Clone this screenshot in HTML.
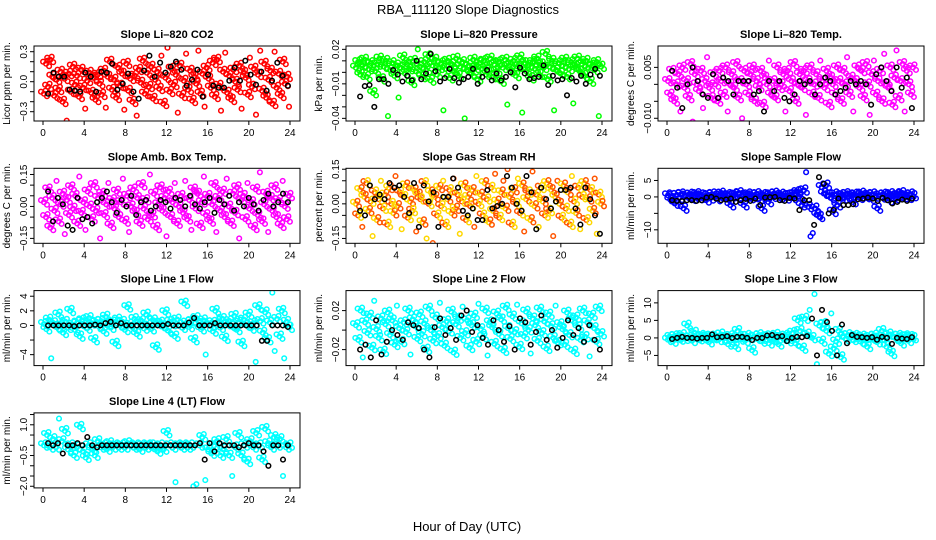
<!DOCTYPE html>
<html><head><meta charset="utf-8"><style>
html,body{margin:0;padding:0;background:#fff}
svg{display:block;font-family:"Liberation Sans",Arial,sans-serif}
</style></head><body>
<svg id="c" width="936" height="540" viewBox="0 0 936 540" xmlns="http://www.w3.org/2000/svg">
<rect width="936" height="540" fill="#fff"/>
<text x="468" y="14" text-anchor="middle" font-size="13">RBA_111120  Slope Diagnostics</text>
<text x="467" y="531" text-anchor="middle" font-size="13">Hour of Day (UTC)</text>
</svg>
<script>
const xTicks=[0,4,8,12,16,20,24];
const co2Vals=[-0.12,0.18,-0.05,0.22,0.05,-0.14,0.02,-0.08,0.10,-0.20,0.03,-0.39,0.08,-0.10,0.15,-0.03,0.06,-0.15,0.12,-0.06,-0.27,0.01,0.09,-0.11,0.04,-0.18,0.07,-0.02,-0.13,0.11,-0.26,0.05,0.20,-0.08,0.02,-0.16,0.14,-0.04,0.08,-0.28,0.18,-0.09,0.03,-0.20,0.06,-0.34,0.12,-0.01,0.21,-0.12,0.09,-0.05,0.15,-0.17,0.02,0.10,-0.07,0.26,-0.22,0.04,0.34,-0.10,0.13,-0.03,0.07,-0.31,0.16,-0.14,0.01,0.28,-0.08,0.11,-0.19,0.05,-0.02,0.31,-0.12,0.08,-0.25,0.14,0.03,-0.06,0.19,-0.15,0.22,-0.04,-0.29,0.10,0.29,-0.11,0.06,-0.18,0.12,0.00,-0.08,0.16,-0.27,0.09,0.04,-0.13,0.24,-0.05,0.13,-0.33,0.07,0.31,-0.09,0.18,-0.16,0.02,0.11,-0.22,0.30,-0.06,0.08,-0.14,0.20,-0.02,0.05,-0.25];
const co2Black=[-0.12,0.09,0.05,0.05,-0.08,-0.09,-0.10,0.09,0.05,-0.10,0.10,0.09,0.18,-0.08,-0.02,0.08,-0.10,-0.17,0.11,0.26,0.05,0.19,0.09,0.15,0.20,0.12,-0.04,0.02,0.12,-0.15,0.07,-0.04,-0.06,-0.06,0.01,0.14,0.01,0.21,0.07,-0.03,0.10,-0.09,0.01,0.19,0.06,-0.04];
const presVals=[0.004,0.009,-0.002,0.006,0.011,-0.004,0.003,0.008,-0.018,0.001,0.007,0.012,-0.006,0.005,0.010,-0.038,0.002,0.008,-0.003,0.006,-0.022,0.004,0.013,-0.001,0.007,0.003,-0.009,0.010,0.001,0.020,0.005,-0.004,0.009,0.002,0.014,-0.007,0.006,0.011,-0.002,0.004,0.008,-0.033,0.003,0.010,-0.005,0.007,0.001,0.012,-0.003,0.005,0.009,-0.040,0.002,0.006,-0.001,0.011,0.004,-0.006,0.008,0.003,0.010,-0.002,0.005,0.012,-0.004,0.007,0.001,0.009,-0.008,0.004,0.011,-0.028,0.006,0.002,0.010,-0.003,0.005,0.013,-0.035,0.008,0.001,0.006,-0.005,0.009,0.003,0.012,-0.002,0.007,0.004,0.016,-0.006,0.005,0.010,-0.033,0.002,0.008,-0.001,0.006,0.011,-0.004,0.003,0.009,-0.027,0.005,0.012,0.001,0.007,-0.003,0.010,0.004,-0.008,0.006,0.002,0.009,-0.038,0.005];
const presBlack=[-0.021,-0.012,-0.011,-0.030,-0.006,-0.006,-0.010,0.002,-0.002,-0.008,-0.003,-0.007,0.010,-0.006,-0.001,0.016,0.001,-0.008,-0.005,0.003,-0.005,-0.009,-0.006,-0.004,0.003,-0.010,-0.004,0.002,-0.007,-0.001,-0.007,-0.004,0.000,-0.013,0.004,-0.001,-0.006,-0.005,-0.004,0.006,-0.011,-0.003,-0.007,-0.006,-0.020,-0.005,-0.008,-0.003,-0.010,-0.002,0.003,-0.003];
const tempVals=[0.001,-0.003,0.004,-0.005,0.000,0.003,-0.008,0.005,-0.001,0.001,-0.004,0.006,-0.011,0.003,0.000,-0.002,0.004,-0.007,0.001,0.008,-0.001,-0.004,0.003,0.000,-0.005,0.004,0.001,-0.003,0.005,-0.008,0.000,0.003,-0.001,0.006,-0.004,0.001,-0.010,0.004,0.000,-0.003,0.003,0.005,-0.005,0.001,-0.001,0.004,-0.006,0.002,0.000,0.007,-0.003,0.001,-0.004,0.005,-0.001,0.000,0.003,-0.008,0.004,-0.002,0.001,0.006,-0.005,0.000,0.003,-0.001,0.004,-0.009,0.001,0.005,-0.003,0.000,0.003,-0.004,0.007,0.001,-0.001,0.004,-0.006,0.002,0.000,-0.003,0.005,0.001,-0.005,0.004,0.000,0.008,-0.003,0.002,-0.008,0.001,0.005,-0.001,0.004,-0.004,0.006,0.000,-0.009,0.003,0.007,-0.003,0.001,0.004,-0.005,0.009,0.000,-0.001,0.005,-0.006,0.002,0.010,-0.004,0.001,0.006,-0.008,0.004,0.000,-0.003,0.005];
const tempBlack=[0.004,-0.001,-0.007,0.000,0.005,0.001,-0.003,-0.004,0.003,-0.004,0.002,0.001,-0.003,0.001,0.001,0.001,-0.003,-0.002,-0.008,0.001,-0.002,0.001,-0.004,-0.005,-0.003,0.001,0.000,0.001,-0.003,0.000,0.002,0.001,-0.003,-0.002,-0.001,0.001,0.000,0.001,0.000,-0.006,0.003,0.005,0.001,-0.002,0.005,-0.001,0.002,-0.007];
const ambVals=[0.02,-0.05,0.08,-0.10,0.04,-0.02,0.12,-0.07,0.01,0.06,-0.13,0.03,-0.04,0.09,-0.01,0.05,-0.08,0.14,-0.03,0.02,-0.11,0.07,0.00,-0.06,0.10,-0.02,0.04,-0.15,0.06,-0.04,0.01,0.11,-0.09,0.03,-0.01,0.07,-0.05,0.02,0.13,-0.07,0.05,-0.12,0.00,0.08,-0.03,0.04,-0.08,0.10,-0.01,0.03,-0.06,0.15,-0.04,0.06,-0.10,0.01,0.09,-0.02,0.04,-0.14,0.07,-0.05,0.02,0.11,-0.08,0.00,0.05,-0.03,0.12,-0.06,0.03,-0.11,0.08,-0.01,0.06,-0.09,0.02,0.14,-0.04,0.05,-0.07,0.01,0.10,-0.12,0.04,-0.02,0.07,-0.05,0.13,0.00,-0.08,0.06,-0.03,0.09,-0.15,0.03,0.05,-0.06,0.11,-0.01,0.02,-0.10,0.08,-0.04,0.16,-0.07,0.01,0.06,-0.12,0.04,-0.02,0.09,-0.05,0.03,-0.09,0.12,0.00,-0.06,0.05];
const ambBlack=[0.07,-0.07,0.04,0.01,-0.09,-0.11,0.04,-0.06,-0.05,-0.08,0.02,0.04,0.07,0.02,-0.03,0.03,0.00,0.05,-0.04,0.02,0.03,-0.02,0.00,0.03,0.02,-0.01,0.04,0.03,0.00,0.05,0.01,-0.01,0.02,0.04,-0.03,0.03,0.01,0.05,-0.02,0.02,0.00,0.04,0.01,-0.02,0.03,0.06,0.00,0.02,0.06,0.02];
const rhVals=[0.00,-0.05,0.06,-0.10,0.03,0.09,-0.03,0.01,-0.14,0.05,-0.07,0.02,0.10,-0.02,0.04,-0.09,0.07,0.00,-0.04,0.12,-0.01,0.05,-0.11,0.03,0.08,-0.06,0.01,-0.03,0.06,-0.12,0.04,0.02,-0.08,0.09,-0.15,0.00,0.05,-0.17,0.03,-0.05,0.07,-0.01,0.10,-0.09,0.02,0.06,-0.04,0.11,-0.02,0.04,-0.13,0.01,0.08,-0.07,0.03,-0.01,0.06,-0.10,0.12,0.00,0.04,-0.05,0.09,0.02,-0.08,0.07,-0.03,0.13,0.01,-0.06,0.05,0.10,-0.02,0.15,0.03,-0.09,0.06,0.00,0.11,-0.04,0.08,-0.12,0.02,0.05,-0.07,0.14,-0.01,0.04,-0.10,0.07,0.01,-0.05,0.09,-0.03,0.06,-0.14,0.03,0.10,0.00,-0.06,0.08,-0.02,0.05,-0.09,0.12,0.01,-0.04,0.07,-0.11,0.03,0.09,-0.07,0.02,0.06,-0.03,0.11,-0.13,0.04,0.00];
const rhBlack=[-0.03,-0.05,0.08,0.02,0.04,0.02,0.09,0.07,0.08,0.03,-0.04,0.09,-0.10,0.08,0.01,0.05,-0.10,0.03,0.03,0.11,0.07,-0.03,-0.05,-0.02,-0.07,-0.07,0.06,-0.02,-0.01,0.00,0.12,0.07,0.00,-0.03,0.12,0.05,-0.11,0.07,0.02,-0.02,0.01,0.06,0.06,0.07,-0.02,-0.09,0.07,0.02,-0.05,-0.13];
const sampleVals=[0.5,-0.8,0.3,-2,0.6,-0.2,0.8,-3.5,0.4,0,0.7,-0.5,0.2,0.9,-0.3,0.5,0.1,-1,0.6,-0.4,0.8,0.2,-0.6,0.4,1,0,-0.2,0.6,-2.5,0.3,0.7,-0.1,1.2,0.4,-2.5,0.2,0.8,-0.3,0.5,0,0.9,-0.5,-3.5,0.6,0.2,-1.5,0.8,0.1,1,0.4,-0.2,0.7,0.3,-0.4,0.5,0.6,-0.3,0.8,1.5,0.2,-2.5,2,7.5,-3,-12,-11,-3.5,-5.5,-6,3,1,3.5,0.5,-0.3,-4.5,0.8,-2.5,0.2,0.6,-0.4,0.9,0.1,0.5,-1.5,0.7,0.3,-0.2,1,0.4,0,0.6,-0.5,0.8,0.2,-3.5,0.5,-0.1,0.7,0.3,-1,0.9,0.2,-0.3,0.6,0.4,1.2,0,0.5,-0.2,0.8,0.3];
const sampleBlack=[-1,-1.2,-1.3,-1,-1,-1.2,-1,-0.2,0,-0.5,-1,-0.8,-0.5,-1.5,-1,-0.6,-1.2,-0.5,-2.5,-0.2,-0.1,0,-1,-1.2,-0.3,-0.5,-4,-1,-1,-8.5,6,4,-5,-4,-0.5,-2.5,-2.5,-2.2,-0.7,-0.5,-0.2,-0.5,-1.2,-0.3,-1,-2,-1.5,-0.8,-1.2,-0.5];
const line1Vals=[0.2,-0.5,0.8,-4.5,0.3,-0.2,1.5,0,-1,0.5,-0.3,2,0.1,-0.6,0.4,-1.5,0.7,0,-0.4,1,0.3,-2,0.5,-0.1,0.6,-0.8,1.2,0.2,-0.3,0.4,-2.5,0.8,0,0.5,-0.6,2.5,0.1,-0.2,0.9,-1.2,0.3,0.6,-0.4,1.5,0,-0.5,0.7,-3,0.2,0.4,-0.1,1.8,-0.7,0.5,0.2,-1.5,0.8,0,-0.3,3,0.4,-0.2,0.6,-2,1,0.1,-0.5,0.7,-4,0.3,0,-0.8,2,0.5,-0.3,0.9,-1.8,0.2,0.6,-0.1,1.3,-0.6,0.4,-2.5,0.8,0,1.5,-0.4,0.3,-5,2.5,0.6,-1,1.8,-2,0.4,4.5,-3.5,0.9,-1.5,2,-4.5,0.5,-0.3];
const line1Black=[0,0,0,0,0,-0.1,0,0,0,0.1,0,0.3,0.5,0,0.3,0,0,0,0,0,0,0,0,0.2,0,0,0,0.4,1,0,0,0,0.3,0,0,0,0,0,0,0,0,-2.1,-2.1,0,0,0,-0.2];
const line2Vals=[0.005,-0.01,0.02,-0.028,0.008,-0.003,0.015,-0.018,0.03,0.001,-0.008,0.012,-0.022,0.006,0.018,-0.005,0.01,-0.015,0.025,0.002,-0.012,0.008,-0.002,0.02,-0.025,0.011,0.004,-0.009,0.016,-0.004,0.007,-0.02,0.022,0.000,-0.011,0.013,-0.006,0.028,0.003,-0.016,0.009,-0.001,0.019,-0.023,0.006,0.012,-0.008,0.024,-0.003,0.01,-0.018,0.005,0.015,-0.012,0.027,0.001,-0.007,0.02,-0.026,0.008,0.003,-0.014,0.017,-0.004,0.011,-0.021,0.023,0.002,-0.009,0.014,-0.002,0.026,-0.017,0.007,-0.006,0.019,0.000,-0.024,0.012,0.005,-0.011,0.021,-0.003,0.009,-0.019,0.016,0.004,-0.008,0.025,-0.013,0.006,0.001,-0.015,0.018,-0.005,0.01,-0.022,0.013,0.003,-0.01,0.02,-0.007,0.008,-0.027,0.015,0.002,-0.012,0.022,-0.004];
const line2Black=[-0.02,-0.015,-0.028,0.01,-0.025,-0.012,0.0,-0.005,-0.01,0.008,0.005,0.002,-0.02,-0.028,0.003,0.012,-0.005,0.002,-0.01,0.015,0.02,-0.002,0.005,-0.008,-0.015,0.01,0.0,-0.012,0.004,-0.02,0.012,0.008,-0.015,-0.002,0.015,-0.01,0.0,-0.018,-0.008,0.01,-0.005,0.002,-0.012,0.005,-0.01,-0.02];
const line3Vals=[-0.5,0.3,-1,0.5,0,-0.4,0.8,-0.2,3.5,0.2,-0.8,1.5,0,-0.3,0.6,-0.1,0.4,-1.2,0.2,0,0.7,-0.5,1,-0.2,0.3,-1.8,0.5,0,-2.5,2,-0.4,0.3,-0.8,0.6,0,-3.5,0.4,-0.2,0.8,-1,0.2,0.5,-1.5,0.1,-0.6,0.9,-1.8,0.3,-0.2,0.7,-0.9,0.4,1.5,-1.5,5,2,-3,5.5,1,8,0,12.5,-7.5,3.5,-1,4,2,-4.5,7,-3,-1,2,-5.5,0.5,-0.3,0.8,0,-0.5,0.6,0.2,-1,0.4,0,-2.5,0.3,-0.2,0.7,-1.2,0.1,2,-0.5,-2.5,1,-4.5,0.4,-0.3,0.6,-1.5,0.2,0.5,-0.8,0.3,0];
const line3Black=[-0.3,0,0.3,0,0,-0.2,0,0,1,0.2,0.3,0.5,0,0.3,0.3,0,-0.6,0,0,0.7,0.8,0.3,0.5,-0.9,0,0.3,0.2,0.5,5.5,-5,8,4.5,2,-5,3.8,-1.5,0.8,0.3,0.2,0,0.2,-0.5,0.3,0,-1.7,0,-0.2,-0.3,0.2];
const line4Vals=[0,0.5,-0.1,0.3,-0.1,1.3,0.2,0.7,-0.2,0,-0.5,-0.1,0.9,-0.3,-0.6,0,-0.2,-0.5,0.2,-0.1,0,-0.2,0.1,-0.1,0,-0.1,0,-0.1,0.1,0,-0.1,0,-0.2,0,-0.1,0,0,-0.1,-0.3,0,-0.2,0.6,0,-0.1,-1.8,0,-0.1,0,-0.1,0,-2.0,-1.9,0,0.4,-1.7,-0.2,-0.4,0,0.2,-0.5,-0.2,0.3,-0.5,-1.5,-0.1,0.5,-0.5,0,-0.8,0.2,-0.1,0.6,0,-0.7,0.8,0.1,-0.1,0.4,0,0.3,-1.5,-0.1,0];
const line4Black=[0.1,0,0.1,-0.4,0,0,0.1,0,0.4,0,-0.1,0,0,0,0,0,0,0,0,0,0,0,0,0,0,0,0,0,0,0,0,0.1,-0.7,0.1,-0.3,0.1,0,0,0,-0.1,0,0.1,0,0,-0.3,-1.0,0,0,-0.7,0];

const panels=[
 {name:'co2',title:'Slope Li\u2013820 CO2',ylab:'Licor ppm per min.',col:0,row:0,ymin:-0.393,ymax:0.357,ticks:[-0.3,-0.2,-0.1,0,0.1,0.2,0.3],labels:[[-0.3,'\u22120.3'],[0,'0.0'],[0.3,'0.3']],vals:co2Vals,black:co2Black,colors:['#ff0000']},
 {name:'pressure',title:'Slope Li\u2013820 Pressure',ylab:'kPa per min.',col:1,row:0,ymin:-0.0423,ymax:0.0229,ticks:[-0.04,-0.03,-0.02,-0.01,0,0.01,0.02],labels:[[-0.04,'\u22120.04'],[-0.01,'\u22120.01'],[0.02,'0.02']],vals:presVals,black:presBlack,colors:['#00ff00']},
 {name:'temp',title:'Slope Li\u2013820 Temp.',ylab:'degrees C per min.',col:2,row:0,ymin:-0.0108,ymax:0.0113,ticks:[-0.01,-0.005,0,0.005],labels:[[-0.01,'\u22120.010'],[0.005,'0.005']],vals:tempVals,black:tempBlack,colors:['#ff00ff']},
 {name:'amb-box-temp',title:'Slope Amb. Box Temp.',ylab:'degrees C per min.',col:0,row:1,ymin:-0.173,ymax:0.179,ticks:[-0.15,-0.1,-0.05,0,0.05,0.1,0.15],labels:[[-0.15,'\u22120.15'],[0,'0.00'],[0.15,'0.15']],vals:ambVals,black:ambBlack,colors:['#ff00ff']},
 {name:'gas-rh',title:'Slope Gas Stream RH',ylab:'percent per min.',col:1,row:1,ymin:-0.171,ymax:0.154,ticks:[-0.15,-0.1,-0.05,0,0.05,0.1,0.15],labels:[[-0.15,'\u22120.15'],[0,'0.00'],[0.15,'0.15']],vals:rhVals,black:rhBlack,colors:['#ffd700','#ff5500']},
 {name:'sample-flow',title:'Slope Sample Flow',ylab:'ml/min per min.',col:2,row:1,ymin:-14.1,ymax:8.7,ticks:[-10,-5,0,5],labels:[[-10,'\u221210'],[0,'0'],[5,'5']],vals:sampleVals,black:sampleBlack,colors:['#0000ff']},
 {name:'line1-flow',title:'Slope Line 1 Flow',ylab:'ml/min per min.',col:0,row:2,ymin:-5.5,ymax:4.77,ticks:[-4,-2,0,2,4],labels:[[-4,'\u22124'],[0,'0'],[2,'2'],[4,'4']],vals:line1Vals,black:line1Black,colors:['#00ffff']},
 {name:'line2-flow',title:'Slope Line 2 Flow',ylab:'ml/min per min.',col:1,row:2,ymin:-0.0364,ymax:0.0405,ticks:[-0.02,0,0.02],labels:[[-0.02,'\u22120.02'],[0.02,'0.02']],vals:line2Vals,black:line2Black,colors:['#00ffff']},
 {name:'line3-flow',title:'Slope Line 3 Flow',ylab:'ml/min per min.',col:2,row:2,ymin:-7.9,ymax:13.5,ticks:[-5,0,5,10],labels:[[-5,'\u22125'],[0,'0'],[5,'5'],[10,'10']],vals:line3Vals,black:line3Black,colors:['#00ffff']},
 {name:'line4-flow',title:'Slope Line 4 (LT) Flow',ylab:'ml/min per min.',col:0,row:3,ymin:-2.08,ymax:1.58,ticks:[-2,-1.5,-1,-0.5,0,0.5,1,1.5],labels:[[-2,'\u22122.0'],[-0.5,'\u22120.5'],[1,'1.0']],vals:line4Vals,black:line4Black,colors:['#00ffff']}
];
// glyph offsets (px) used to render each colored reading as a small dense clump
const clump=[[0,0],[3,2.5],[-3,-2],[1.5,-3]];
const NS='http://www.w3.org/2000/svg';
const svg=document.getElementById('c');
function mk(tag,attrs,parent){const e=document.createElementNS(NS,tag);for(const k in attrs)e.setAttribute(k,attrs[k]);(parent||svg).appendChild(e);return e;}
panels.forEach(p=>{
  const bx=34+p.col*312, by=46+p.row*122.3, bw=266, bh=75;
  const g=mk('g',{});
  
  
  const xs=h=>bx+9+(h/24)*(bw-19);
  const ys=v=>by+bh-(v-p.ymin)/(p.ymax-p.ymin)*bh;
  const t=mk('text',{x:bx+bw/2,y:by-8,'text-anchor':'middle','font-size':'11','font-weight':'bold'},g);
  t.textContent=p.title;
  
  
  const yl=mk('text',{x:0,y:0,'text-anchor':'middle','font-size':'10',transform:`translate(${bx-24},${by+bh/2}) rotate(-90)`},g);
  yl.textContent=p.ylab;
  
  
  const clip=mk('clipPath',{id:'clip-'+p.name},g);
  mk('rect',{x:bx,y:by,width:bw,height:bh},clip);
  const pts=mk('g',{fill:'none','stroke-width':'1.5','clip-path':`url(#clip-${p.name})`},g);
  
  
  const n=p.vals.length;
  p.vals.forEach((v,i)=>{
    const h=0.1+i*23.8/(n-1);
    const cx=xs(h), cy=ys(v);
    const big=Math.abs(cy-ys(0))>bh*0.3;
    (big?clump.slice(0,1):clump).forEach(([dx,dy],k)=>{
      const c=mk('circle',{cx:(cx+dx).toFixed(1),cy:(cy+dy).toFixed(1),r:'2.3',stroke:p.colors[(i+k)%p.colors.length]},pts);
      
      
    });
  });
  const bpts=mk('g',{fill:'none',stroke:'#000','stroke-width':'1.5'},g);
  
  
  const m=p.black.length;
  p.black.forEach((v,i)=>{
    const h=0.5+i*23.3/(m-1);
    const c=mk('circle',{cx:xs(h).toFixed(1),cy:ys(v).toFixed(1),r:'2.3'},bpts);
    
    
  });
  const box=mk('rect',{x:bx,y:by,width:bw,height:bh,fill:'none',stroke:'#000','stroke-width':'1'},g);
  
  
  xTicks.forEach(h=>{
    mk('line',{x1:xs(h),x2:xs(h),y1:by+bh,y2:by+bh+4,stroke:'#000'},g);
    const tl=mk('text',{x:xs(h),y:by+bh+15,'text-anchor':'middle','font-size':'10'},g);
    tl.textContent=h;
    
    
  });
  p.ticks.forEach(v=>{mk('line',{x1:bx-4,x2:bx,y1:ys(v),y2:ys(v),stroke:'#000'},g);});
  p.labels.forEach(([v,s])=>{
    const tl=mk('text',{x:0,y:0,'text-anchor':'middle','font-size':'10',transform:`translate(${bx-7},${ys(v)}) rotate(-90)`},g);
    tl.textContent=s;
    
    
  });
});
</script>
</body></html>
